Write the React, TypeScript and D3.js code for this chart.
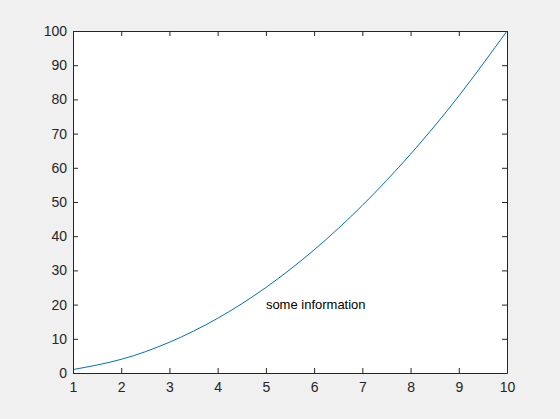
import * as d3 from 'd3';
import { useRef, useEffect } from 'react';

const xValues = [1, 2, 3, 4, 5, 6, 7, 8, 9, 10];
const yValues = [1, 4, 9, 16, 25, 36, 49, 64, 81, 100];
const xTicks = [1, 2, 3, 4, 5, 6, 7, 8, 9, 10];
const yTicks = [0, 10, 20, 30, 40, 50, 60, 70, 80, 90, 100];
const note = { x: 5, y: 20, text: 'some information' };

const App = () => {
  const svgRef = useRef<SVGSVGElement>(null);

  useEffect(() => {
    const svg = d3.select(svgRef.current);
    const width = 560;
    const height = 419;
    const margin = { top: 31, right: 53, bottom: 46, left: 73 };
    const axisColor = '#262626';
    const font = 'Arial, "Liberation Sans", Helvetica, sans-serif';

    svg.selectAll('*').remove();
    svg.attr('width', width).attr('height', height);

    svg.append('rect').attr('width', width).attr('height', height).attr('fill', '#f0f0f0');

    const x = d3.scaleLinear().domain([1, 10]).range([margin.left, width - margin.right]);
    const y = d3.scaleLinear().domain([0, 100]).range([height - margin.bottom, margin.top]);

    svg.append('rect')
      .attr('x', margin.left)
      .attr('y', margin.top)
      .attr('width', width - margin.left - margin.right)
      .attr('height', height - margin.top - margin.bottom)
      .attr('fill', '#fff');

    const line = d3.line<number>()
      .x((_, i) => x(xValues[i]))
      .y(d => y(d))
      .curve(d3.curveNatural);

    svg.append('path')
      .datum(yValues)
      .attr('d', line)
      .attr('fill', 'none')
      .attr('stroke', '#0072bd')
      .attr('stroke-width', 1);

    const styleAxis = (g: any) => {
      g.select('.domain').attr('stroke', axisColor);
      g.selectAll('line').attr('stroke', axisColor);
      g.selectAll('text').attr('fill', axisColor).style('font-size', '14px').style('font-family', font);
    };

    svg.append('g')
      .attr('transform', `translate(0,${height - margin.bottom})`)
      .call(d3.axisBottom(x).tickValues(xTicks).tickSize(-5).tickSizeOuter(0).tickPadding(9).tickFormat(d3.format('d')))
      .call(styleAxis);

    svg.append('g')
      .attr('transform', `translate(0,${margin.top})`)
      .call(d3.axisTop(x).tickValues(xTicks).tickSize(-5).tickSizeOuter(0).tickFormat(() => ''))
      .call(styleAxis);

    svg.append('g')
      .attr('transform', `translate(${margin.left},0)`)
      .call(d3.axisLeft(y).tickValues(yTicks).tickSize(-5).tickSizeOuter(0).tickPadding(6))
      .call(styleAxis);

    svg.append('g')
      .attr('transform', `translate(${width - margin.right},0)`)
      .call(d3.axisRight(y).tickValues(yTicks).tickSize(-5).tickSizeOuter(0).tickFormat(() => ''))
      .call(styleAxis);

    svg.append('text')
      .attr('x', x(note.x))
      .attr('y', y(note.y))
      .attr('dy', '0.35em')
      .attr('fill', '#000')
      .style('font-size', '13px')
      .style('font-family', font)
      .text(note.text);
  }, []);

  return (
    <div style={{ position: 'fixed', left: 0, top: 0 }}>
      <svg ref={svgRef} style={{ display: 'block' }}></svg>
    </div>
  );
};

export default App;
